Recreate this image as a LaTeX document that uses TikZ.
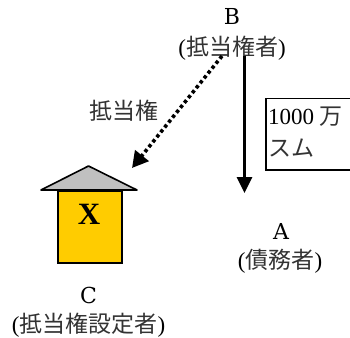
\documentclass[tikz,border=0pt]{standalone}
\usepackage{fontspec}
\setmainfont{Liberation Serif}
\newfontfamily\cjk{Noto Sans CJK JP}[Color=333333]
\newfontfamily\ltr{DejaVu Serif}
\usetikzlibrary{arrows.meta}
\tikzset{
  lbl/.style={inner sep=0pt,font=\fontsize{23}{25}\selectfont},
  letter/.style={inner sep=0pt,font=\fontsize{22}{24}\selectfont\ltr},
  outl/.style={draw=black,line width=1.6pt,line join=miter},
  arrowline/.style={line width=3pt,-{Triangle[length=16pt,width=15pt]}},
  dotline/.style={line width=3.6pt,-{Triangle[length=16pt,width=17pt]},dash pattern=on 3.4pt off 2.9pt}
}
\begin{document}
\begin{tikzpicture}[x=1pt,y=-1pt]
\useasboundingbox (0,0) rectangle (350,337);
\node[letter] (b) at (232,16) {B};
\node[lbl] (bn) at (232,48) {(\cjk 抵当権者\rmfamily)};
\node[lbl] (mort) at (124,111) {\cjk 抵当権};
\node[letter] (a) at (281,231) {A};
\node[lbl] (an) at (280,261) {(\cjk 債務者\rmfamily)};
\node[letter] (c) at (88.5,295) {C};
\node[lbl] (cn) at (88.5,325) {(\cjk 抵当権設定者\rmfamily)};
\node[outl,fill=white,minimum width=90pt,minimum height=71.5pt,anchor=north west,inner sep=0pt] (box) at (265,97.5) {};
\node[lbl,anchor=west] (t1) at (268,117) {1000 \cjk 万};
\node[lbl,anchor=west] (t2) at (268,148) {\cjk スム};
\coordinate (vs) at (244.5,56);
\coordinate (ve) at (244.5,193);
\coordinate (ds) at (222,56);
\coordinate (de) at (132,168);
\draw[arrowline] (vs) -- (ve);
\draw[dotline] (ds) -- (de);
\filldraw[fill={rgb,255:red,192;green,192;blue,192},draw=black,line width=1.6pt,line join=round] (41,190) -- (88.5,166) -- (137,190) -- cycle;
\node[outl,fill={rgb,255:red,255;green,204;blue,0},minimum width=64pt,minimum height=72pt,anchor=north west,inner sep=0pt] (body) at (57,190) {};
\node[inner sep=0pt,font=\fontsize{31}{33}\selectfont\bfseries] (x) at (89,214) {X};
\end{tikzpicture}
\end{document}
